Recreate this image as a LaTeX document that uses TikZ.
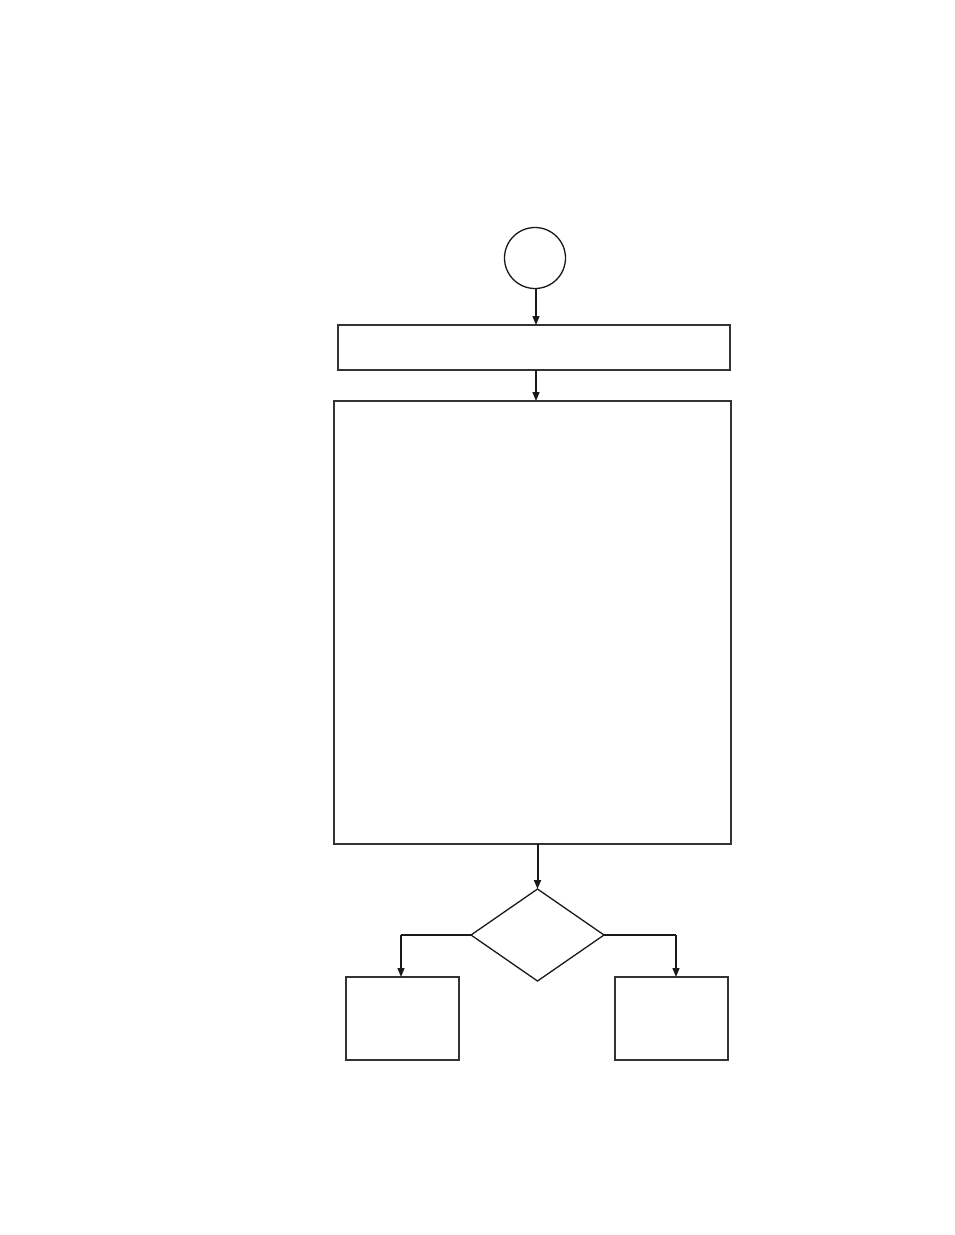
\documentclass[tikz,border=0pt]{standalone}
\usetikzlibrary{arrows.meta,shapes.geometric}
\begin{document}
\begin{tikzpicture}[x=1pt,y=-1pt,
  line width=1.3pt,
  boxst/.style={draw=black!80,rectangle,inner sep=0pt,outer sep=0pt},
  circst/.style={draw=black!90,circle,inner sep=0pt,outer sep=0pt,minimum size=61pt},
  diast/.style={draw=black!90,diamond,inner sep=0pt,outer sep=0pt,minimum width=133pt,minimum height=92pt},
  arr/.style={draw=black!90,-{Triangle[width=7pt,length=9pt]}},
  thickarr/.style={arr,line width=2pt}]
\useasboundingbox (0,0) rectangle (954,1235);
\node[circst] (start) at (535,258) {};
\node[boxst,minimum width=392pt,minimum height=45pt] (b1) at (534,347.5) {};
\node[boxst,minimum width=397pt,minimum height=443pt] (b2) at (532.5,622.5) {};
\node[diast] (d) at (537.5,935) {};
\node[boxst,minimum width=113pt,minimum height=83pt] (l) at (402.5,1018.5) {};
\node[boxst,minimum width=113pt,minimum height=83pt] (r) at (671.5,1018.5) {};
\coordinate (lc) at (401,935);
\coordinate (rc) at (676,935);
\draw[arr] (536,288.5) -- (536,325);
\draw[arr] (536,370) -- (536,401);
\draw[thickarr] (537.5,844) -- (d.north);
\draw[line width=2pt,black!90] (d.west) -- (lc);
\draw[arr] (lc) -- (401,977);
\draw[black!90] (d.east) -- (rc);
\draw[arr] (rc) -- (676,977);
\end{tikzpicture}
\end{document}
